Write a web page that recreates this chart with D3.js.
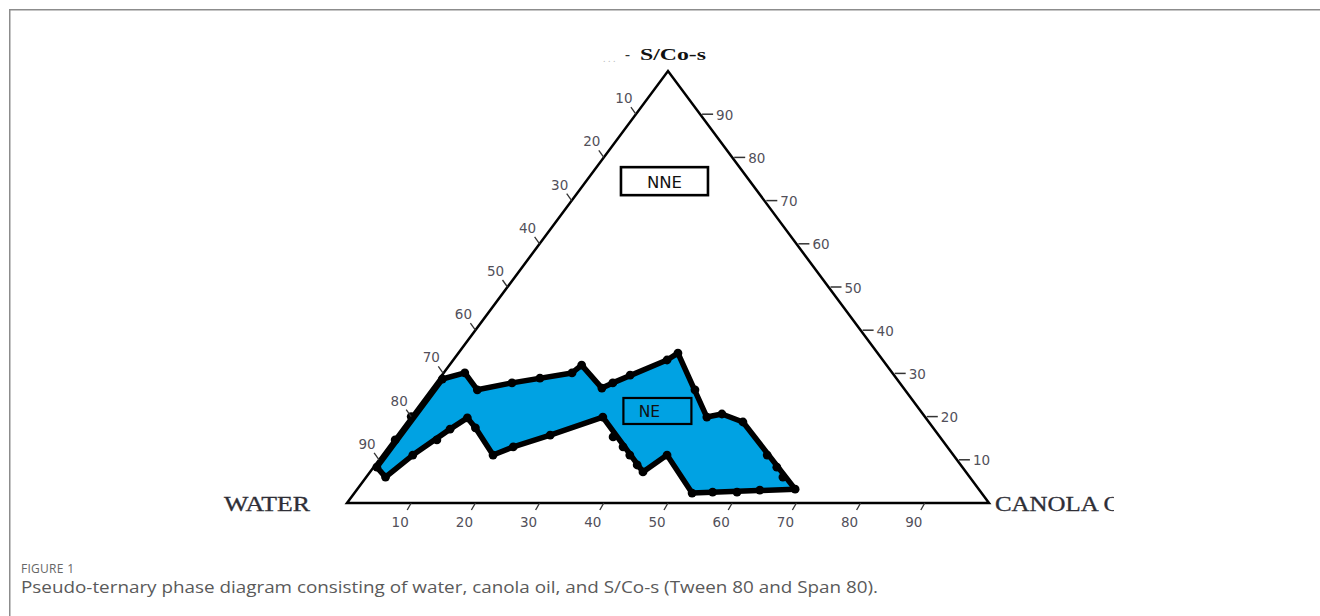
<!DOCTYPE html>
<html><head><meta charset="utf-8">
<script src="https://cdn.jsdelivr.net/npm/d3@7"></script>
<style>body{margin:0;background:#fff;overflow:hidden} svg{display:block}</style>
</head><body>
<script>
// ---- data (ternary %: oil, surfactant/co-surfactant; water = rest) ----
const tickValues = [10, 20, 30, 40, 50, 60, 70, 80, 90];
const vertexLabels = ["WATER", "CANOLA OIL", "S/Co-s"];
const phaseLabels = ["NNE", "NE"];
// nanoemulsion region boundary (clockwise from water edge)
const regionOil  = [0.5, 3.0, 4.7, 7.5, 8.9, 11.3, 17.2, 19.4, 23.8, 29.9, 42.5, 44.3, 52.6, 68.2, 52.3, 48.1, 46.1, 34.2, 33.3, 27.5, 26.4, 20.6, 20.0, 11.8, 7.2, 3.3, 0.5];
const regionSurf = [8.3, 6.0, 11.1, 17.1, 19.7, 17.4, 11.1, 13.0, 15.7, 19.9, 7.2, 11.1, 2.3, 3.2, 18.75, 20.6, 19.9, 34.7, 33.1, 27.8, 26.6, 31.9, 30.1, 27.8, 26.2, 30.1, 28.7];
// additional observed titration points along the boundary
const sampleOil  = [0, 6.7, 33.8, 36.5, 38.5, 40.8, 59.9, 62.8, 64.9, 55.7, 59.5, 62.8, 41.1, 29.3, 15.6, 0.2];
const sampleSurf = [20, 14.6, 15.3, 13.0, 11.1, 8.8, 11.1, 8.3, 6.0, 2.5, 2.5, 3.0, 26.2, 29.6, 28.9, 14.6];
const captionHead = "FIGURE 1";
const captionText = "Pseudo-ternary phase diagram consisting of water, canola oil, and S/Co-s (Tween 80 and Span 80).";

// ---- layout ----
const W = 1320, H = 616;
const svg = d3.select("body").append("svg").attr("width", W).attr("height", H);

// frame
svg.append("path").attr("d", `M9.75,616 V9.75 H1320`).attr("fill", "none")
  .attr("stroke", "#8c8c8c").attr("stroke-width", 1.5);

const xBase = d3.scaleLinear().domain([0, 100]).range([347, 989]);
const yH = d3.scaleLinear().domain([0, 100]).range([503, 71]);
const P = (o, s) => [xBase(o) + (xBase(s) - xBase(0)) / 2, yH(s)];

const Wv = P(0, 0), Ov = P(100, 0), Sv = P(0, 100);

// region
const regionPts = regionOil.map((o, i) => P(o, regionSurf[i]));
svg.append("path")
  .attr("d", d3.line().curve(d3.curveLinearClosed)(regionPts))
  .attr("fill", "#00a2e3").attr("stroke", "#000").attr("stroke-width", 5.5)
  .attr("stroke-linejoin", "round");

const dots = regionPts.concat(sampleOil.map((o, i) => P(o, sampleSurf[i])));
svg.append("g").selectAll("circle").data(dots).join("circle")
  .attr("cx", d => d[0]).attr("cy", d => d[1]).attr("r", 4.4).attr("fill", "#000");

// triangle
svg.append("path").attr("d", d3.line().curve(d3.curveLinearClosed)([Wv, Ov, Sv]))
  .attr("fill", "none").attr("stroke", "#000").attr("stroke-width", 2.5);

const tickFont = "'DejaVu Sans', Verdana, sans-serif";
const tickCol = "#52505a";
const tg = svg.append("g").attr("font-family", tickFont).attr("font-size", 13.5).attr("fill", tickCol);

// bottom ticks (oil)
tickValues.forEach(v => {
  const [x, y] = P(v, 0);
  tg.append("line").attr("x1", x).attr("y1", y).attr("x2", x - 4).attr("y2", y + 7)
    .attr("stroke", "#333").attr("stroke-width", 1.3);
  tg.append("text").attr("x", x - 11).attr("y", y + 19).attr("text-anchor", "middle")
    .attr("dominant-baseline", "central").text(v);
});
// left ticks (water)
tickValues.forEach(v => {
  const [x, y] = P(0, 100 - v);
  tg.append("line").attr("x1", x).attr("y1", y).attr("x2", x - 5).attr("y2", y - 7)
    .attr("stroke", "#333").attr("stroke-width", 1.3);
  tg.append("text").attr("x", x - 12).attr("y", y - 16).attr("text-anchor", "middle")
    .attr("dominant-baseline", "central").text(v);
});
// right ticks (S/Co-s)
tickValues.forEach(v => {
  const [x, y] = P(100 - v, v);
  tg.append("line").attr("x1", x + 2).attr("y1", y).attr("x2", x + 13).attr("y2", y)
    .attr("stroke", "#333").attr("stroke-width", 1.5);
  tg.append("text").attr("x", x + 16).attr("y", y + 0.5).attr("text-anchor", "start")
    .attr("dominant-baseline", "central").text(v);
});

// vertex labels
const serif = "'Liberation Serif', 'Times New Roman', serif";
svg.append("text").attr("x", 224).attr("y", 511).attr("font-family", serif)
  .attr("font-size", 20).attr("fill", "#2e2e36").attr("stroke", "#2e2e36").attr("stroke-width", 0.3)
  .attr("textLength", 86).attr("lengthAdjust", "spacingAndGlyphs").text(vertexLabels[0]);
svg.append("clipPath").attr("id", "cl").append("rect").attr("x", 990).attr("y", 480)
  .attr("width", 124).attr("height", 50);
svg.append("text").attr("x", 995).attr("y", 511).attr("font-family", serif)
  .attr("font-size", 20).attr("fill", "#2e2e36").attr("stroke", "#2e2e36").attr("stroke-width", 0.3)
  .attr("textLength", 150).attr("lengthAdjust", "spacingAndGlyphs").attr("clip-path", "url(#cl)").text(vertexLabels[1]);
svg.append("text").attr("x", 603).attr("y", 62).attr("font-family", serif)
  .attr("font-size", 10).attr("fill", "#bbb").text(".  .  .");
svg.append("text").attr("x", 625).attr("y", 59).attr("font-family", serif)
  .attr("font-size", 15).attr("font-weight", "bold").attr("fill", "#333").text("-");
svg.append("text").attr("x", 640).attr("y", 60).attr("font-family", serif)
  .attr("font-size", 17).attr("font-weight", "bold").attr("fill", "#111").attr("textLength", 66)
  .attr("lengthAdjust", "spacingAndGlyphs").text(vertexLabels[2]);

// phase boxes
const boxes = [
  {label: phaseLabels[0], c: P(12.2, 74.5), w: 87, h: 28, fs: 16.5, sw: 2.6, dx: 0},
  {label: phaseLabels[1], c: P(37.7, 21.3), w: 68, h: 26, fs: 15.5, sw: 2.2, dx: -8}
];
boxes.forEach(b => {
  svg.append("rect").attr("x", b.c[0] - b.w / 2).attr("y", b.c[1] - b.h / 2)
    .attr("width", b.w).attr("height", b.h).attr("fill", "none")
    .attr("stroke", "#000").attr("stroke-width", b.sw);
  svg.append("text").attr("x", b.c[0] + b.dx).attr("y", b.c[1] + 1)
    .attr("text-anchor", "middle").attr("dominant-baseline", "central")
    .attr("font-family", tickFont).attr("font-size", b.fs).attr("fill", "#111").text(b.label);
});

// caption
svg.append("text").attr("x", 21).attr("y", 573).attr("font-family", "'Open Sans', sans-serif")
  .attr("font-size", 12).attr("fill", "#666").attr("textLength", 53).text(captionHead);
svg.append("text").attr("x", 21).attr("y", 593).attr("font-family", "'Open Sans', sans-serif")
  .attr("font-size", 17).attr("fill", "#5a5a5a").attr("textLength", 857)
  .attr("lengthAdjust", "spacingAndGlyphs").text(captionText);
</script>
</body></html>
